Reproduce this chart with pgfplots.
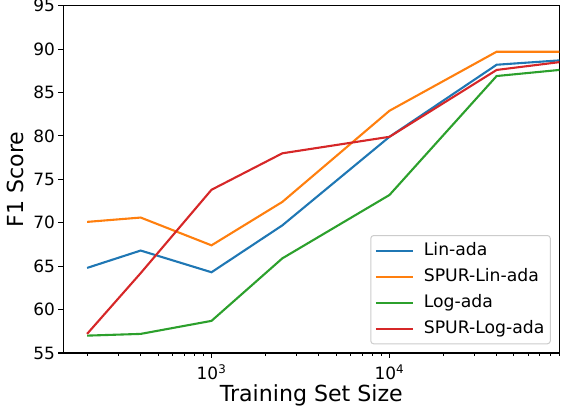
\documentclass[border=0pt]{standalone}
\usepackage{fontspec}
\setmainfont{DejaVu Sans}
\usepackage{pgfplots}
\pgfplotsset{compat=1.18}
\definecolor{tabblue}{HTML}{1F77B4}
\definecolor{taborange}{HTML}{FF7F0E}
\definecolor{tabgreen}{HTML}{2CA02C}
\definecolor{tabred}{HTML}{D62728}
\begin{document}
\begin{tikzpicture}
\useasboundingbox (-63.3bp,-56bp) rectangle (497.7bp,353bp);
\begin{axis}[
  at={(0,0)}, anchor=south west,
  width=496bp, height=347.3bp, scale only axis,
  xmode=log, xmin=147, xmax=90000, ymin=55, ymax=95,
  ytick={55,60,65,70,75,80,85,90,95},
  xtick={1000,10000}, xticklabels={10\textsuperscript{3},10\textsuperscript{4}},
  minor xtick={200,300,400,500,600,700,800,900,2000,3000,4000,5000,6000,7000,8000,9000,20000,30000,40000,50000,60000,70000,80000,90000},
  tick align=outside, tick pos=left,
  major tick length=4.9bp, minor tick length=2.8bp,
  major tick style={black, line width=1.1bp},
  minor tick style={black, line width=0.8bp},
  axis line style={line width=1.1bp},
  ticklabel style={font=\fontsize{17}{20}\selectfont},
  xticklabel style={anchor=base, yshift=-22bp},
  /pgf/number format/assume math mode=true,
  xlabel={Training Set Size}, ylabel={F1 Score},
  every axis x label/.style={at={(axis description cs:0.5,0)}, anchor=base, yshift=-48.7bp, font=\fontsize{22.2}{26}\selectfont},
  every axis y label/.style={at={(axis description cs:-0.0968,0.5)}, rotate=90, anchor=center, font=\fontsize{22.2}{26}\selectfont},
  legend style={at={(0.983,0.025)}, anchor=south east, draw=black!20, line width=1bp, rounded corners=3bp,
    font=\fontsize{17.3}{20}\selectfont, inner xsep=4bp, inner ysep=4.5bp, row sep=4.7bp,
    nodes={font=\fontsize{17.3}{20}\selectfont, inner sep=2bp, text height=13bp, text depth=4.3bp}},
  legend cell align=left,
  legend image code/.code={\draw[#1, line width=2.1bp] (0bp,0bp) -- (37bp,0bp); \path (0bp,0bp) (45bp,0bp);},
]
\addplot[tabblue, line width=2.1bp] coordinates {(200,64.8) (400,66.8) (1000,64.3) (2500,69.7) (10000,79.9) (40000,88.2) (90000,88.7)};
\addlegendentry{Lin-ada}
\addplot[taborange, line width=2.1bp] coordinates {(200,70.1) (400,70.6) (1000,67.4) (2500,72.4) (10000,82.9) (40000,89.7) (90000,89.7)};
\addlegendentry{SPUR-Lin-ada}
\addplot[tabgreen, line width=2.1bp] coordinates {(200,57.0) (400,57.2) (1000,58.7) (2500,65.9) (10000,73.2) (40000,86.9) (90000,87.6)};
\addlegendentry{Log-ada}
\addplot[tabred, line width=2.1bp] coordinates {(200,57.2) (400,64.2) (1000,73.8) (2500,78.0) (10000,79.9) (40000,87.6) (90000,88.5)};
\addlegendentry{SPUR-Log-ada}
\end{axis}
\end{tikzpicture}
\end{document}
